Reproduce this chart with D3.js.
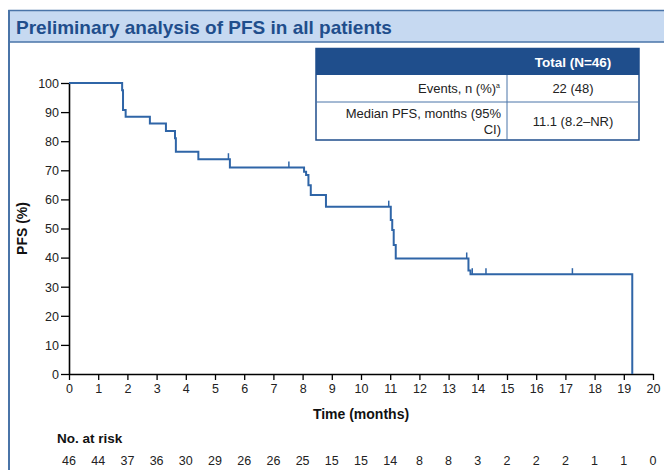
<!DOCTYPE html>
<html><head><meta charset="utf-8">
<script src="https://cdn.jsdelivr.net/npm/d3@7"></script>
<style>
html,body{margin:0;padding:0;background:#fff;}
svg{display:block;font-family:"Liberation Sans",Arial,sans-serif;}
</style></head>
<body><svg id="c" width="664" height="470"></svg>
<script>
// ---- data ----
const stepTimes = [0, 1.82, 1.85, 1.94, 2.77, 3.32, 3.63, 3.66, 4.43, 5.51, 8.05, 8.12, 8.20, 8.28, 8.80, 11.02, 11.07, 11.12, 11.19, 13.68, 13.75, 19.29];
const stepSurv  = [100, 97.5, 90.7, 88.4, 86.1, 83.5, 81.0, 76.4, 73.8, 71.0, 69.5, 68.4, 64.9, 61.5, 57.5, 52.9, 49.5, 44.3, 39.7, 35.6, 34.3, 0];
const censorTimes = [5.46, 7.53, 10.95, 13.62, 13.81, 14.28, 17.24];
const censorSurv  = [73.8, 71.0, 57.5, 39.7, 34.3, 34.3, 34.3];
const xTicks = [0,1,2,3,4,5,6,7,8,9,10,11,12,13,14,15,16,17,18,19,20];
const yTicks = [0,10,20,30,40,50,60,70,80,90,100];
const atRisk = [46,44,37,36,30,29,26,26,25,15,15,14,8,8,3,2,2,2,1,1,0];
const tableHeader = ["", "Total (N=46)"];
const tableRowLabels = [["Events, n (%)"], ["Median PFS, months (95%", "CI)"]];
const tableRowValues = ["22 (48)", "11.1 (8.2–NR)"];
const title = "Preliminary analysis of PFS in all patients";

const svg = d3.select("#c");
const dark = "#1f4e8c", band = "#c6d9f1", curve = "#2f65a7";

// panel header band + border
svg.append("rect").attr("x",9).attr("y",10.5).attr("width",670).attr("height",31.5)
  .attr("fill",band).attr("stroke","#4a74a8").attr("stroke-width",1.5);
svg.append("line").attr("x1",9).attr("x2",9).attr("y1",10).attr("y2",470)
  .attr("stroke","#4a74a8").attr("stroke-width",2);
svg.append("text").attr("x",16).attr("y",34).attr("fill",dark)
  .attr("font-size",19).attr("font-weight","bold").text(title);

// scales
const x = d3.scaleLinear().domain([0,20]).range([69,653]);
const y = d3.scaleLinear().domain([0,100]).range([374,83]);

// axes
const gx = svg.append("g").attr("transform",`translate(0,${y(0)})`)
  .call(d3.axisBottom(x).tickValues(xTicks).tickSize(6).tickPadding(4).tickSizeOuter(0));
const gy = svg.append("g").attr("transform",`translate(${x(0)},0)`)
  .call(d3.axisLeft(y).tickValues(yTicks).tickSize(8).tickPadding(2).tickSizeOuter(0));
[gx,gy].forEach(g=>{
  g.select(".domain").attr("stroke","#000").attr("stroke-width",1.6);
  g.selectAll(".tick line").attr("stroke","#000").attr("stroke-width",1.3);
  g.selectAll(".tick text").attr("font-size",12.5).attr("fill","#222")
   .attr("font-family","'Liberation Sans',Arial,sans-serif");
});
gy.selectAll(".tick text").attr("dy","0.35em");

svg.append("text").attr("x",361).attr("y",419).attr("text-anchor","middle")
  .attr("font-size",14).attr("font-weight","bold").attr("fill","#111").text("Time (months)");
svg.append("text").attr("transform",`translate(27,${y(50)}) rotate(-90)`).attr("text-anchor","middle")
  .attr("font-size",14).attr("font-weight","bold").attr("fill","#111").text("PFS (%)");

// KM step curve
const pts = stepTimes.map((t,i)=>[t,stepSurv[i]]);
const line = d3.line().x(d=>x(d[0])).y(d=>y(d[1])).curve(d3.curveStepAfter);
svg.append("path").attr("d",line(pts)).attr("fill","none").attr("stroke",curve).attr("stroke-width",2);

// censor marks
svg.append("g").selectAll("line").data(censorTimes).join("line")
  .attr("x1",(d)=>x(d)).attr("x2",(d)=>x(d))
  .attr("y1",(d,i)=>y(censorSurv[i])).attr("y2",(d,i)=>y(censorSurv[i])-6)
  .attr("stroke",curve).attr("stroke-width",1.5);

// at risk
svg.append("text").attr("x",57).attr("y",443).attr("font-size",13.5).attr("font-weight","bold")
  .attr("fill","#111").text("No. at risk");
svg.append("g").selectAll("text").data(atRisk).join("text")
  .attr("x",(d,i)=>x(xTicks[i])).attr("y",465).attr("text-anchor","middle")
  .attr("font-size",12.5).attr("fill","#222").text(d=>d);

// table
const tx0=316, tx1=507, tx2=639;
const rowY=[48.5,75,102,140];
const tg = svg.append("g");
tg.append("rect").attr("x",tx0).attr("y",rowY[0]).attr("width",tx2-tx0).attr("height",rowY[1]-rowY[0]).attr("fill",dark);
tg.append("rect").attr("x",tx0).attr("y",rowY[0]).attr("width",tx2-tx0).attr("height",rowY[3]-rowY[0])
  .attr("fill","none").attr("stroke",dark).attr("stroke-width",1.5);
tg.append("line").attr("x1",tx0).attr("x2",tx2).attr("y1",rowY[2]).attr("y2",rowY[2]).attr("stroke","#4a74a8").attr("stroke-width",1);
tg.append("line").attr("x1",tx1).attr("x2",tx1).attr("y1",rowY[1]).attr("y2",rowY[3]).attr("stroke","#4a74a8").attr("stroke-width",1);
tg.append("text").attr("x",(tx1+tx2)/2).attr("y",67).attr("text-anchor","middle").attr("fill","#fff")
  .attr("font-size",13.5).attr("font-weight","bold").text(tableHeader[1]);
// row 1
const r1 = tg.append("text").attr("x",500).attr("y",93).attr("text-anchor","end").attr("font-size",13).attr("fill","#222");
r1.append("tspan").text(tableRowLabels[0][0]);
r1.append("tspan").attr("font-size",7).attr("dy",-5).text("a");
tg.append("text").attr("x",(tx1+tx2)/2).attr("y",93).attr("text-anchor","middle").attr("font-size",13).attr("fill","#222").text(tableRowValues[0]);
// row 2
tableRowLabels[1].forEach((s,i)=>{
  tg.append("text").attr("x",501).attr("y",118+i*16).attr("text-anchor","end").attr("font-size",13).attr("fill","#222").text(s);
});
tg.append("text").attr("x",(tx1+tx2)/2).attr("y",126).attr("text-anchor","middle").attr("font-size",13).attr("fill","#222").text(tableRowValues[1]);
</script></body></html>
